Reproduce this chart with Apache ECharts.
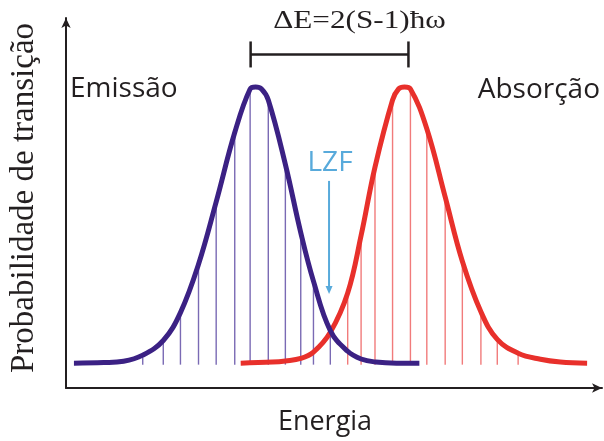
<!DOCTYPE html>
<html>
<head>
<meta charset="utf-8">
<script src="https://cdn.jsdelivr.net/npm/echarts@6/dist/echarts.min.js"></script>
<style>
  html, body { margin: 0; padding: 0; background: #fff; }
  #chart { width: 604px; height: 441px; }
</style>
</head>
<body>
<div id="chart"></div>
<script>
// Emission band: energy samples (arbitrary units) and transition probability (peak = 1)
const emissionEnergy = [8, 38, 58, 77.3, 98, 115.3, 133.5, 151.3, 170, 185.5, 191, 197, 203.8, 221, 236.5, 249.3, 266.3, 283.8, 297.3, 312, 333, 356];
const emissionProb   = [0, 0.002, 0.007, 0.029, 0.082, 0.183, 0.358, 0.584, 0.835, 0.993, 1.0, 0.993, 0.953, 0.72, 0.473, 0.297, 0.118, 0.043, 0.015, 0.004, 0, 0];
// Energies of the emission vibronic lines
const emissionLines  = [77.3, 98, 115.3, 133.5, 151.3, 170, 185.5, 203.8, 221, 236.5, 249.3, 266.3];

// Absorption band
const absorptionEnergy = [176, 208, 221, 236.5, 249.3, 266.3, 283.8, 297.3, 311.3, 329, 335, 341, 347, 363.5, 382, 399.3, 418, 434.5, 455.5, 478, 498, 525];
const absorptionProb   = [0, 0.004, 0.008, 0.017, 0.04, 0.112, 0.254, 0.462, 0.71, 0.953, 0.993, 1.0, 0.993, 0.849, 0.602, 0.369, 0.186, 0.086, 0.036, 0.014, 0.004, 0];
// Energies of the absorption vibronic lines
const absorptionLines  = [283.8, 297.3, 311.3, 329, 347, 363.5, 382, 399.3, 418, 434.5, 455.5];

// Annotations
const bandLabels = ['Emissão', 'Absorção'];
const gapLabel = 'ΔE=2(S-1)ħω';
const gapBracket = [186, 345];     // energy span of the bracket
const gapLevel = 1.118;            // height of the bracket
const zplLabel = 'LZF';
const zplEnergy = 265;             // zero-phonon line position
const zplArrowSpan = [0.66, 0.25]; // arrow from -> to (probability)
const xTitle = 'Energia';
const yTitle = 'Probabilidade de transição';

const INK = '#231f20';
const PURPLE = '#3b2184', PURPLE_LINE = '#7a6ab4';
const RED = '#e8302b', RED_LINE = '#f17b7b';
const BLUE = '#58aadb';
const SANS = '"Open Sans", "Noto Sans", sans-serif';
const SERIF = '"Liberation Serif", "DejaVu Serif", serif';

const zip = (xs, ys) => xs.map((x, i) => [x, ys[i]]);

function stickSeries(lines, energy, prob, color) {
  return {
    type: 'custom',
    silent: true,
    z: 1,
    data: lines.map(e => [e, prob[energy.indexOf(e)]]),
    renderItem(params, api) {
      const p0 = api.coord([api.value(0), 0]);
      const p1 = api.coord([api.value(0), api.value(1)]);
      return {
        type: 'line',
        shape: { x1: p0[0], y1: p0[1] + 1.5, x2: p1[0], y2: p1[1] },
        style: { stroke: color, lineWidth: 1.4 }
      };
    }
  };
}

function bandSeries(energy, prob, color) {
  return {
    type: 'line',
    silent: true,
    z: 3,
    data: zip(energy, prob),
    showSymbol: false,
    smooth: 0.4,
    lineStyle: { color, width: 5, cap: 'butt', join: 'round' }
  };
}

const chart = echarts.init(document.getElementById('chart'), null, { renderer: 'canvas' });

chart.setOption({
  animation: false,
  backgroundColor: '#fff',
  grid: { left: 62, right: 2, top: 18, bottom: 51 },
  xAxis: {
    type: 'value', min: 0, max: 540,
    name: xTitle, nameLocation: 'middle', nameGap: 21,
    nameTextStyle: { fontFamily: SANS, fontSize: 27, color: INK, padding: [0, 18, 0, 0] },
    axisLine: { show: true, onZero: false, symbol: ['none', 'arrow'], symbolSize: [7, 10], lineStyle: { color: INK, width: 2 } },
    axisTick: { show: false }, axisLabel: { show: false }, splitLine: { show: false }
  },
  yAxis: {
    type: 'value', min: -0.09, max: 1.25,
    name: yTitle, nameLocation: 'middle', nameGap: 25, nameRotate: 90,
    nameTextStyle: { fontFamily: SERIF, fontSize: 33, color: INK, padding: [0, 0, 0, 10] },
    axisLine: { show: true, onZero: false, symbol: ['none', 'arrow'], symbolSize: [7, 10], lineStyle: { color: INK, width: 2 } },
    axisTick: { show: false }, axisLabel: { show: false }, splitLine: { show: false }
  },
  series: [
    stickSeries(emissionLines, emissionEnergy, emissionProb, PURPLE_LINE),
    stickSeries(absorptionLines, absorptionEnergy, absorptionProb, RED_LINE),
    bandSeries(absorptionEnergy, absorptionProb, RED),
    bandSeries(emissionEnergy, emissionProb, PURPLE)
  ]
});

// Annotations placed through the grid's coordinate system
const px = (x, y) => chart.convertToPixel({ gridIndex: 0 }, [x, y]);
const bL = px(gapBracket[0], gapLevel), bR = px(gapBracket[1], gapLevel);
const aTop = px(zplEnergy, zplArrowSpan[0]), aTip = px(zplEnergy, zplArrowSpan[1]);
const gapX = (bL[0] + bR[0]) / 2 + 30;
const gapStretch = 1.2; // the formula is set in a wide serif

chart.setOption({
  graphic: [
    { type: 'line', shape: { x1: bL[0], y1: bL[1], x2: bR[0], y2: bR[1] }, style: { stroke: INK, lineWidth: 2.5 } },
    { type: 'line', shape: { x1: bL[0], y1: bL[1] - 13, x2: bL[0], y2: bL[1] + 13 }, style: { stroke: INK, lineWidth: 2.5 } },
    { type: 'line', shape: { x1: bR[0], y1: bR[1] - 13, x2: bR[0], y2: bR[1] + 13 }, style: { stroke: INK, lineWidth: 2.5 } },
    // stretched about a local origin of (1, 1); position compensates the shift
    { type: 'text', x: gapX + (gapStretch - 1), y: 21, scaleX: gapStretch, scaleY: 1, originX: 1, originY: 1,
      style: { text: gapLabel, font: '26px ' + SERIF, fill: INK, align: 'center', verticalAlign: 'middle' } },
    { type: 'line', shape: { x1: aTop[0], y1: aTop[1], x2: aTip[0], y2: aTip[1] - 6 }, style: { stroke: BLUE, lineWidth: 2 } },
    { type: 'polygon', shape: { points: [[aTip[0] - 3.5, aTip[1] - 8], [aTip[0] + 3.5, aTip[1] - 8], [aTip[0], aTip[1]]] }, style: { fill: BLUE } },
    { type: 'text', x: aTop[0] + 1, y: 163,
      style: { text: zplLabel, font: '28px ' + SANS, fill: BLUE, align: 'center', verticalAlign: 'middle' } },
    { type: 'text', x: 70, y: 89,
      style: { text: bandLabels[0], font: '28px ' + SANS, fill: INK, align: 'left', verticalAlign: 'middle' } },
    { type: 'text', x: 600, y: 90,
      style: { text: bandLabels[1], font: '28px ' + SANS, fill: INK, align: 'right', verticalAlign: 'middle' } }
  ]
});
</script>
</body>
</html>
